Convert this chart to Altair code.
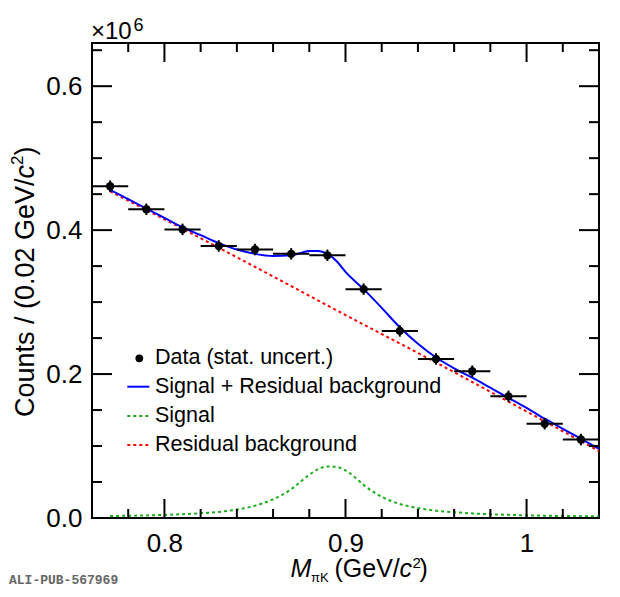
import altair as alt
import pandas as pd

FONT = "Liberation Sans"

# Data points (x 10^6 counts per 0.02 GeV/c^2 bin)
data_x = [0.77, 0.79, 0.81, 0.83, 0.85, 0.87, 0.89, 0.91, 0.93, 0.95, 0.97, 0.99, 1.01, 1.03]
data_y = [0.461, 0.429, 0.401, 0.378, 0.373, 0.367, 0.365, 0.318, 0.260, 0.221, 0.204, 0.169, 0.131, 0.109]
data_xerr = [0.01] * 14
data_yerr = [0.008] * 14

# Fit curves
tot_x = [0.77, 0.78, 0.79, 0.80, 0.81, 0.82, 0.83, 0.84, 0.85, 0.86, 0.87, 0.875, 0.88, 0.885,
         0.89, 0.895, 0.90, 0.91, 0.92, 0.93, 0.94, 0.95, 0.96, 0.97, 0.98, 0.99, 1.00, 1.01,
         1.02, 1.03, 1.04]
tot_y = [0.456, 0.443, 0.430, 0.417, 0.404, 0.393, 0.382, 0.373, 0.367, 0.364, 0.365, 0.368,
         0.371, 0.371, 0.367, 0.357, 0.342, 0.318, 0.292, 0.265, 0.242, 0.223, 0.208, 0.195,
         0.181, 0.167, 0.153, 0.138, 0.124, 0.110, 0.096]

sig_x = [0.77, 0.78, 0.79, 0.80, 0.81, 0.82, 0.83, 0.84, 0.85, 0.86, 0.87, 0.875, 0.88, 0.885,
         0.89, 0.895, 0.90, 0.905, 0.91, 0.92, 0.93, 0.94, 0.95, 0.96, 0.97, 0.98, 0.99, 1.00,
         1.01, 1.02, 1.03, 1.04]
sig_y = [0.0027, 0.0031, 0.0036, 0.0044, 0.0053, 0.0066, 0.0085, 0.0118, 0.0170, 0.0260,
         0.0400, 0.0500, 0.0600, 0.0680, 0.0715, 0.0710, 0.0660, 0.0570, 0.0460, 0.0295,
         0.0195, 0.0138, 0.0102, 0.0080, 0.0064, 0.0052, 0.0044, 0.0037, 0.0032, 0.0028,
         0.0025, 0.0022]

bg_x = [0.77, 0.80, 0.85, 0.90, 0.95, 1.00, 1.04]
bg_y = [0.454, 0.415, 0.349, 0.282, 0.216, 0.148, 0.093]

# Axis ticks
x_major = [0.8, 0.9, 1.0]
x_minor = [0.78, 0.82, 0.84, 0.86, 0.88, 0.92, 0.94, 0.96, 0.98, 1.02]
y_major = [0.0, 0.2, 0.4, 0.6]
y_minor = [0.05, 0.1, 0.15, 0.25, 0.3, 0.35, 0.45, 0.5, 0.55, 0.65]

legend_labels = ["Data (stat. uncert.)", "Signal + Residual background", "Signal", "Residual background"]

W, H = 507, 475
BLUE, GREEN, RED = "#0000ff", "#1aaf1a", "#ff0000"

xs = alt.Scale(domain=[0.76, 1.04], nice=False, zero=False)
ys = alt.Scale(domain=[0, 0.66], nice=False, zero=False)

# same axis object on every layer so the merged axis keeps its labels
x_axis = alt.Axis(
    values=x_major, labelExpr="datum.value == 1 ? '1' : format(datum.value, '.1f')",
    labelFontSize=26, labelFont=FONT, labelColor="black", ticks=False, tickSize=0,
    domain=False, grid=False, title=None, labelPadding=12)
y_axis = alt.Axis(
    values=y_major, format=".1f", labelFontSize=26, labelFont=FONT, labelColor="black",
    ticks=False, tickSize=0, domain=False, grid=False, title=None, labelPadding=10)


def X(field):
    return alt.X(field, scale=xs, axis=x_axis)


def Y(field):
    return alt.Y(field, scale=ys, axis=y_axis)


points = pd.DataFrame({"x": data_x, "y": data_y, "xerr": data_xerr, "yerr": data_yerr})
points["xlo"] = points.x - points.xerr
points["xhi"] = points.x + points.xerr
points["ylo"] = points.y - points.yerr
points["yhi"] = points.y + points.yerr

base = alt.Chart(points)

xerr_rule = base.mark_rule(color="black", strokeWidth=2).encode(x=X("xlo:Q"), x2="xhi", y=Y("y:Q"))
yerr_rule = base.mark_rule(color="black", strokeWidth=2).encode(x=X("x:Q"), y=Y("ylo:Q"), y2="yhi")
dots = base.mark_point(filled=True, color="black", size=70, opacity=1).encode(x=X("x:Q"), y=Y("y:Q"))


def curve(xv, yv, color, dash=None):
    kw = {"strokeDash": dash} if dash else {}
    return alt.Chart(pd.DataFrame({"x": xv, "y": yv})).mark_line(
        color=color, strokeWidth=2, interpolate="monotone", **kw
    ).encode(x=X("x:Q"), y=Y("y:Q"))


bg_line = curve(bg_x, bg_y, RED, [3, 3])
sig_line = curve(sig_x, sig_y, GREEN, [3, 3])
tot_line = curve(tot_x, tot_y, BLUE)


# inward ticks on all four sides
def yticks(vals, length):
    c = alt.Chart(pd.DataFrame({"v": vals})).mark_rule(color="black", strokeWidth=2)
    return [c.encode(y=Y("v:Q"), x=alt.value(0), x2=alt.value(length)),
            c.encode(y=Y("v:Q"), x=alt.value(W), x2=alt.value(W - length))]


def xticks(vals, length):
    c = alt.Chart(pd.DataFrame({"v": vals})).mark_rule(color="black", strokeWidth=2)
    return [c.encode(x=X("v:Q"), y=alt.value(H), y2=alt.value(H - length)),
            c.encode(x=X("v:Q"), y=alt.value(0), y2=alt.value(length))]


ticks = yticks(y_major, 20) + yticks(y_minor, 10) + xticks(x_major, 19) + xticks(x_minor, 9)


def label(text, x, y, size, style="normal", angle=0, baseline="alphabetic",
          font=FONT, color="black", weight="normal"):
    return alt.Chart(pd.DataFrame({"t": [text]})).mark_text(
        align="left", baseline=baseline, fontSize=size, fontStyle=style, angle=angle,
        font=font, color=color, fontWeight=weight
    ).encode(x=alt.value(x), y=alt.value(y), text="t:N")


texts = [
    # y title
    label("Counts / (0.02 GeV/", -58.5, 374, 27, angle=270),
    label("c", -58.5, 135.4, 27, style="italic", angle=270),
    label("2", -69, 121.9, 17, angle=270),
    label(")", -58.5, 112.4, 27, angle=270),
    # x title
    label("M", 198.5, 534.3, 25, style="italic"),
    label("πK", 219, 538.7, 13),
    label("(GeV/", 242.5, 534.3, 25),
    label("c", 307.5, 534.3, 25, style="italic"),
    label("2", 320.5, 525, 15),
    label(")", 327.5, 534.3, 25),
    # exponent
    label("×10", -1, -4.5, 24),
    label("6", 41.5, -12.5, 18),
    # tag
    label("ALI-PUB-567969", -83, 541, 13, font="Liberation Mono", color="#666666", weight="bold"),
]

# legend
leg_y = [315.3, 343.7, 373, 402]
one = pd.DataFrame({"k": [0]})
legend = [
    alt.Chart(one).mark_point(filled=True, color="black", size=60, opacity=1).encode(
        x=alt.value(47.3), y=alt.value(leg_y[0])),
    alt.Chart(one).mark_rule(color=BLUE, strokeWidth=2).encode(
        x=alt.value(35.3), x2=alt.value(57.3), y=alt.value(leg_y[1])),
    alt.Chart(one).mark_rule(color=GREEN, strokeWidth=2, strokeDash=[3, 3]).encode(
        x=alt.value(35.3), x2=alt.value(57.3), y=alt.value(leg_y[2])),
    alt.Chart(one).mark_rule(color=RED, strokeWidth=2, strokeDash=[3, 3]).encode(
        x=alt.value(35.3), x2=alt.value(57.3), y=alt.value(leg_y[3])),
]
legend += [label(t, 63, yv, 21.5, baseline="middle") for t, yv in zip(legend_labels, leg_y)]

chart = (
    alt.layer(bg_line, sig_line, tot_line, xerr_rule, yerr_rule, dots, *ticks, *texts, *legend)
    .properties(
        width=W, height=H,
        autosize=alt.AutoSizeParams(type="none"),
        padding={"left": 84, "top": 35, "right": 10, "bottom": 71},
    )
    .configure(font=FONT)
    .configure_view(stroke="black", strokeWidth=2)
)

chart.save("out.html", embed_options={"renderer": "svg", "actions": False})
